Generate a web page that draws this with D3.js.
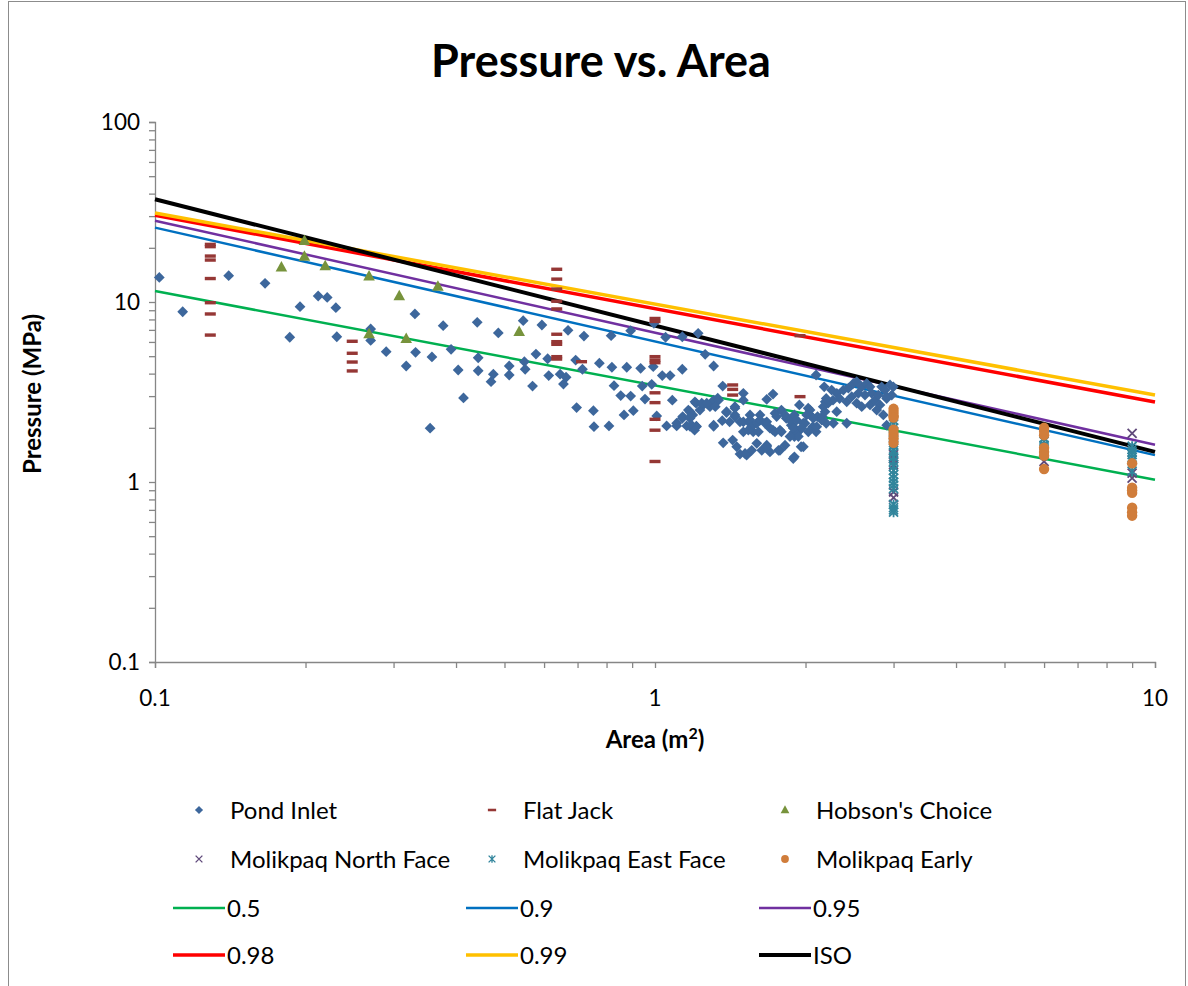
<!DOCTYPE html>
<html><head><meta charset="utf-8">
<script src="https://cdn.jsdelivr.net/npm/d3@7"></script>
<style>html,body{margin:0;padding:0;background:#fff;}svg{display:block;}</style>
</head><body>
<svg id="chart" width="1188" height="986"></svg>
<script>
// ---------- DATA (area m², pressure MPa) ----------
const pondInlet = [
[0.102,13.7],[0.1136,8.83],[0.1404,14.0],[0.166,12.7],[0.186,6.37],[0.195,9.42],[0.212,10.8],[0.221,10.6],[0.230,9.3],[0.231,6.41],
[0.270,7.08],[0.270,6.12],[0.290,5.3],[0.318,4.41],[0.331,8.58],[0.332,5.25],[0.355,1.99],[0.358,4.95],[0.377,7.39],[0.391,5.46],
[0.404,4.19],[0.414,2.93],[0.441,7.71],[0.443,4.9],[0.443,4.15],[0.475,3.97],[0.470,3.61],[0.486,6.73],
[0.545,7.87],[0.594,7.45],[0.511,4.41],[0.511,3.93],[0.548,4.66],[0.550,4.23],[0.569,3.41],[0.578,5.14],[0.610,4.84],[0.613,3.9],
[0.646,3.97],[0.664,3.82],[0.656,3.5],[0.670,6.96],[0.694,4.76],[0.716,4.23],[0.721,6.47],[0.697,2.59],[0.753,2.49],[0.755,2.03],
[0.809,2.05],[0.774,4.57],[0.817,6.5],[0.820,4.34],[0.828,3.43],[0.854,3.02],[0.867,2.36],[0.878,4.34],[0.894,6.93],[0.894,3.0],
[0.905,2.49],[0.936,4.28],[0.943,3.41],[0.955,2.89],[0.985,3.49],[0.992,4.37],[0.995,7.62],[1.008,2.33],[1.034,3.9],[1.05,6.37],
[1.072,3.9],[1.083,2.85],[1.055,2.05],[1.105,2.05],[1.134,6.41],[1.134,4.23],[1.22,6.7],[1.134,2.26],[1.157,2.05],[1.184,2.36],
[1.21,2.03],[1.208,2.74],
[1.26,5.12],[1.31,4.41],[1.366,3.41],[1.335,2.92],[1.31,2.79],[1.288,2.62],[1.249,2.68],[1.23,2.51],[1.202,2.79],[1.19,2.36],
[1.166,2.51],[1.136,2.31],[1.31,2.07],[1.363,2.19],[1.39,2.43],[1.445,2.62],[1.445,2.36],[1.502,3.11],[1.502,2.85],[1.369,1.65],
[1.43,1.71],[1.457,1.57],[1.479,1.43],[1.525,1.41],[1.502,1.9],[1.549,2.12],[1.572,1.9],[1.549,2.36],[1.622,2.36],[1.598,1.64],
[1.635,1.5],[1.673,1.6],[1.66,2.12],[1.698,1.47],[1.722,1.94],[1.778,1.5],[1.79,1.9],[1.738,2.41],[1.673,2.88],[1.722,3.08],
[1.79,2.51],[1.83,2.26],[1.873,2.07],[1.9,1.9],[1.9,1.79],[1.944,1.94],[1.9,1.38],[1.96,1.57],[1.995,2.12],[2.042,2.36],
[2.068,2.03],[2.1,1.9],[2.114,2.31],[2.16,2.31],[2.19,2.79],[2.18,3.38],[2.1,3.93],[2.2,2.12],[1.944,2.68],[2.025,2.57],
[1.175,2.46],[1.24,2.74],[1.175,2.26],[1.21,2.04],[1.175,2.04],[1.31,2.85],[1.34,2.85],[1.32,2.62],[1.31,2.04],[1.39,2.46],
[1.445,2.57],[1.445,2.31],[1.479,2.16],[1.41,2.16],[1.502,2.16],[1.549,2.21],[1.561,2.03],[1.598,2.12],[1.622,2.21],[1.537,1.94],
[1.61,1.9],[1.673,2.16],[1.698,1.99],[1.738,1.9],[1.778,1.94],[1.751,2.31],[1.82,2.36],[1.862,2.21],[1.9,2.36],[1.89,2.03],
[1.92,1.86],[1.514,1.44],[1.561,1.5],[1.673,1.57],[1.766,1.5],[1.82,1.6],[1.89,1.35],[1.184,2.07],[1.2,1.94],[1.105,2.12],[1.269,2.74],
[2.256,3.24],[2.31,3.11],[2.34,2.91],[2.27,2.85],[2.22,2.74],[2.17,2.62],[2.2,2.91],
[2.381,3.24],[2.436,3.32],[2.493,3.53],[2.532,3.61],[2.591,3.38],[2.651,3.53],[2.692,3.38],[2.551,3.11],[2.63,3.04],[2.713,3.11],
[2.474,2.98],[2.418,2.79],[2.532,2.74],[2.591,2.62],[2.692,2.68],[2.754,2.85],[2.797,3.04],[2.84,3.38],[2.884,3.24],[2.951,3.46],
[2.997,3.38],[2.906,2.91],[2.975,3.04],[2.818,2.68],[2.776,2.51],[2.862,2.36],[2.906,2.07],[2.906,2.98],
[2.042,2.51],[2.011,2.36],[2.073,2.26],[1.98,2.12],[1.92,2.21],[1.891,1.99],[1.966,1.99],[2.026,1.9],[1.935,1.79],[1.862,1.79],
[1.98,1.57],[2.155,2.21],[2.106,2.03],[2.274,2.12],[2.309,2.46],[2.418,2.12],[2.188,2.46]
];
const flatJack = [
[0.129,20.9],[0.129,20.3],[0.129,18.0],[0.129,17.1],[0.129,13.5],[0.129,9.91],[0.129,8.58],[0.129,6.55],
[0.248,6.05],[0.248,5.19],[0.248,4.64],[0.248,4.14],
[0.636,15.2],[0.636,13.4],[0.636,11.8],[0.636,10.1],[0.636,9.15],[0.636,6.62],[0.636,6.02],[0.636,5.82],[0.636,4.97],[0.636,4.82],
[0.713,4.66],
[1.0,8.1],[1.0,7.8],[1.0,4.97],[1.0,4.76],[1.0,4.6],[1.0,3.13],[1.0,2.76],[1.0,2.23],[1.0,1.94],[1.0,1.30],
[1.43,3.46],[1.43,3.27],[1.43,3.04],
[1.95,6.5],[1.95,2.98]
];
const hobsonsChoice = [
[0.179,15.6],[0.199,21.9],[0.199,17.9],[0.219,15.85],[0.268,13.9],[0.308,10.8],[0.368,12.2],[0.268,6.64],[0.318,6.25],[0.535,6.84]
];
const molikpaqNorth = [
[3,1.42],[3,1.35],[3,1.25],[3,0.88],[3,0.82],[6,1.30],[9,1.86],[9,1.12],[9,1.05]
];
const molikpaqEast = [
[3,2.2],[3,2.1],[3,2.0],[3,1.9],[3,1.8],[3,1.7],[3,1.6],[3,1.5],[3,1.45],[3,1.38],[3,1.3],[3,1.22],[3,1.16],[3,1.1],
[3,1.05],[3,1.0],[3,0.96],[3,0.92],[3,0.75],[3,0.72],[3,0.70],[3,0.68],
[6,1.75],[6,1.68],[6,1.6],[6,1.55],
[9,1.58],[9,1.52],[9,1.47],[9,1.42],[9,1.37],[9,1.32],[9,1.15]
];
const molikpaqEarly = [
[3,2.55],[3,2.45],[3,2.35],[3,2.28],[3,1.95],[3,1.85],[3,1.75],[3,1.65],
[6,2.0],[6,1.92],[6,1.82],[6,1.55],[6,1.47],[6,1.4],[6,1.18],
[9,1.27],[9,0.93],[9,0.9],[9,0.87],[9,0.72],[9,0.68],[9,0.65]
];
// fitted curves: pressure at area 0.1 and at area 10
const curveNames = ["0.5","0.9","0.95","0.98","0.99","ISO"];
const curveAreas = [0.1, 10];
const curveStart = [11.5, 25.9, 28.3, 30.3, 31.2, 37.2];
const curveEnd   = [1.03, 1.41, 1.61, 2.78, 3.04, 1.47];
const xTicks = [0.1, 1, 10];
const yTicks = [0.1, 1, 10, 100];
const xTickLabels = ["0.1","1","10"];
const yTickLabels = ["0.1","1","10","100"];

// ---------- STYLE ----------
const curveColors = ["#00b050","#0070c0","#7030a0","#ff0000","#ffc000","#000000"];
const curveWidths = [2.5,2.5,2.5,3.5,3.5,4];
const FONT = "Lato, 'Open Sans', sans-serif";

const svg = d3.select("#chart");
const L=155, R=1155, T=122, B=662;
const x = d3.scaleLog().domain([0.1,10]).range([L,R]);
const y = d3.scaleLog().domain([0.1,100]).range([B,T]);

// chart border
svg.append("rect").attr("x",8.5).attr("y",1.5).attr("width",1177).attr("height",1000)
  .attr("fill","none").attr("stroke","#8c8c8c").attr("stroke-width",1);

// title
svg.append("text").attr("x",601).attr("y",77).attr("text-anchor","middle")
  .attr("font-family",FONT).attr("font-weight","bold").attr("font-size",45).text("Pressure vs. Area");

// axes
const minorX = [];
for (let d=0.1; d<10-1e-9; d*=10) for (let k=1;k<=9;k++) minorX.push(d*k);
minorX.push(10);
const minorY = [];
for (let d=0.1; d<100-1e-9; d*=10) for (let k=1;k<=9;k++) minorY.push(d*k);
minorY.push(100);

const yAxis = d3.axisLeft(y).tickValues(minorY).tickSize(6).tickFormat("");
const gy = svg.append("g").attr("transform",`translate(${L},0)`).call(yAxis);
const xAxis = d3.axisBottom(x).tickValues(minorX).tickSize(6).tickFormat("");
const gx = svg.append("g").attr("transform",`translate(0,${B})`).call(xAxis);
[gx,gy].forEach(g=>{
  g.selectAll("path.domain").attr("stroke","#868686").attr("stroke-width",1.3);
  g.selectAll("line").attr("stroke","#868686").attr("stroke-width",1.3);
});
// tick labels
svg.append("g").selectAll("text").data(yTicks).join("text")
  .attr("x",L-15).attr("y",d=>y(d)).attr("dy","0.35em").attr("text-anchor","end")
  .attr("font-family",FONT).attr("font-size",22.5).attr("fill","#000")
  .text((d,i)=>yTickLabels[i]);
svg.append("g").selectAll("text").data(xTicks).join("text")
  .attr("x",d=>x(d)).attr("y",B+44).attr("text-anchor","middle")
  .attr("font-family",FONT).attr("font-size",22.5).attr("fill","#000")
  .text((d,i)=>xTickLabels[i]);

// axis titles
svg.append("text").attr("transform","translate(41,394) rotate(-90)").attr("text-anchor","middle")
  .attr("font-family",FONT).attr("font-weight","bold").attr("font-size",24).text("Pressure (MPa)");
const xt = svg.append("text").attr("x",655).attr("y",748).attr("text-anchor","middle")
  .attr("font-family",FONT).attr("font-weight","bold").attr("font-size",24);
xt.append("tspan").text("Area (m");
xt.append("tspan").attr("dy",-9).attr("font-size",16).text("2");
xt.append("tspan").attr("dy",9).text(")");

// curves
const lineGen = d3.line().x(d=>x(d[0])).y(d=>y(d[1]));
const gLines = svg.append("g");
curveNames.forEach((n,i)=>{
  const pts = [[curveAreas[0],curveStart[i]],[curveAreas[1],curveEnd[i]]];
  gLines.append("path").attr("d",lineGen(pts)).attr("fill","none")
    .attr("stroke",curveColors[i]).attr("stroke-width",curveWidths[i]);
});

// marker drawers
const markers = {
  diamond:(g,c)=>g.append("path").attr("d","M0,-5.4L5.4,0L0,5.4L-5.4,0Z").attr("fill",c),
  dash:(g,c)=>g.append("rect").attr("x",-5.5).attr("y",-1.7).attr("width",11).attr("height",3.4).attr("fill",c),
  triangle:(g,c)=>g.append("path").attr("d","M0,-6.2L5.8,4.3L-5.8,4.3Z").attr("fill",c),
  cross:(g,c)=>g.append("path").attr("d","M-4.5,-4.5L4.5,4.5M-4.5,4.5L4.5,-4.5").attr("stroke",c).attr("stroke-width",1.8).attr("fill","none"),
  star:(g,c)=>g.append("path").attr("d","M-4.5,-4.5L4.5,4.5M-4.5,4.5L4.5,-4.5M0,-5L0,5").attr("stroke",c).attr("stroke-width",1.8).attr("fill","none"),
  circle:(g,c)=>g.append("circle").attr("r",5.2).attr("fill",c)
};
const series = [
  {name:"Pond Inlet", data:pondInlet, m:"diamond", c:"#3d679c"},
  {name:"Flat Jack", data:flatJack, m:"dash", c:"#953735"},
  {name:"Hobson's Choice", data:hobsonsChoice, m:"triangle", c:"#77933c"},
  {name:"Molikpaq North Face", data:molikpaqNorth, m:"cross", c:"#604a7b"},
  {name:"Molikpaq East Face", data:molikpaqEast, m:"star", c:"#31859c"},
  {name:"Molikpaq Early", data:molikpaqEarly, m:"circle", c:"#d07d3b"}
];
series.forEach(s=>{
  const g = svg.append("g");
  s.data.forEach(d=>{
    const mg = g.append("g").attr("transform",`translate(${x(d[0])},${y(d[1])})`);
    markers[s.m](mg,s.c);
  });
});

// legend
const colX = [230, 523, 816];
const rowY = [810, 859, 908, 955];
series.forEach((s,i)=>{
  const cx = colX[i%3], cy = rowY[Math.floor(i/3)];
  const mg = svg.append("g").attr("transform",`translate(${cx-31},${cy})`);
  markers[s.m](mg.append("g").attr("transform","scale(0.75)"),s.c);
  svg.append("text").attr("x",cx).attr("y",cy).attr("dy","0.36em")
    .attr("font-family",FONT).attr("font-size",24).text(s.name);
});
curveNames.forEach((n,i)=>{
  const cx = colX[i%3], cy = rowY[2+Math.floor(i/3)];
  svg.append("line").attr("x1",cx-57).attr("x2",cx-5).attr("y1",cy).attr("y2",cy)
    .attr("stroke",curveColors[i]).attr("stroke-width",curveWidths[i]);
  svg.append("text").attr("x",cx-3).attr("y",cy).attr("dy","0.36em")
    .attr("font-family",FONT).attr("font-size",24).text(n);
});
</script>
</body></html>
